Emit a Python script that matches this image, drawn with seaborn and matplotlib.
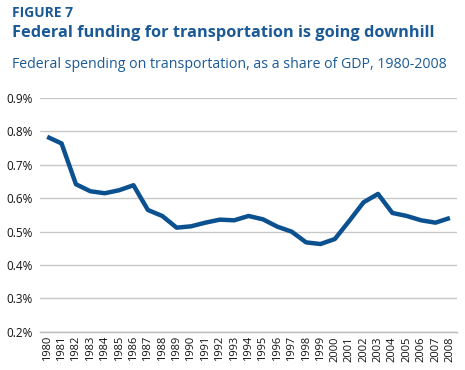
import numpy as np
import pandas as pd
import matplotlib
matplotlib.use("Agg")
import matplotlib.pyplot as plt
import seaborn as sns
from matplotlib.ticker import FixedLocator

# Federal spending on transportation, share of GDP (%)
years = [str(y) for y in range(1980, 2009)]
share = [0.784, 0.764, 0.642, 0.621, 0.615, 0.624, 0.639, 0.565, 0.547, 0.512,
         0.516, 0.527, 0.536, 0.534, 0.547, 0.537, 0.515, 0.500, 0.468, 0.463,
         0.478, 0.532, 0.588, 0.613, 0.556, 0.547, 0.534, 0.527, 0.541]
yticks = [0.2, 0.3, 0.4, 0.5, 0.6, 0.7, 0.8, 0.9]

blue = "#0b5190"
title_blue = "#1b5a96"

sns.set_theme(style="white")
plt.rcParams['font.family'] = ['Open Sans', 'DejaVu Sans']

df = pd.DataFrame({"year": years, "share": share})

fig = plt.figure(figsize=(4.65, 3.7), dpi=100)
ax = fig.add_axes([0.086, 0.103, 0.897, 0.632])

sns.lineplot(data=df, x="year", y="share", ax=ax, color=blue, linewidth=3.2,
             solid_capstyle="butt")

ax.set_xlim(-0.5, len(years) - 0.5)
ax.set_ylim(0.2, 0.9)
ax.set_yticks(yticks)
ax.set_yticklabels([f"{v:.1f}%" for v in yticks], fontsize=8.5, color="#111111")
ax.set_xticks(range(len(years)))
ax.set_xticklabels(years, rotation=90, fontsize=8, color="#111111")
ax.xaxis.set_minor_locator(FixedLocator(np.arange(-0.5, len(years), 1.0)))
ax.tick_params(axis="x", which="major", length=0, pad=3)
ax.tick_params(axis="x", which="minor", length=3, color="#bbbbbb", width=0.8)
ax.tick_params(axis="y", length=3, color="#bbbbbb", width=0.8, pad=2)
ax.yaxis.grid(True, color="#c8c8c8", linewidth=1)
ax.set_axisbelow(True)
ax.set_xlabel("")
ax.set_ylabel("")
for s in ["top", "right", "left"]:
    ax.spines[s].set_visible(False)
ax.spines["bottom"].set_color("#bbbbbb")
ax.spines["bottom"].set_linewidth(1)

fig.text(0.026, 0.954, "FIGURE 7", fontsize=10, fontweight="bold",
         color=title_blue, va="baseline")
fig.text(0.026, 0.9, "Federal funding for transportation is going downhill",
         fontsize=11.8, fontweight="bold", color=title_blue, va="baseline")
fig.text(0.026, 0.817, "Federal spending on transportation, as a share of GDP, 1980-2008",
         fontsize=10.2, color=title_blue, va="baseline")

fig.savefig("out.png", dpi=100)
